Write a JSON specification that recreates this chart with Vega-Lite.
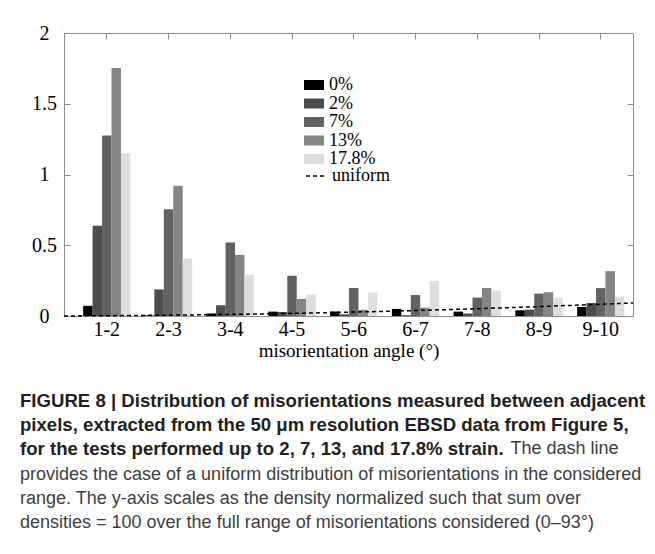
{
  "$schema": "https://vega.github.io/schema/vega-lite/v6.json",
  "width": 569,
  "height": 283,
  "autosize": {"type": "none"},
  "padding": {"left": 64, "top": 33, "right": 22, "bottom": 238},
  "background": "white",
  "config": {
    "view": {"stroke": "#8c8c8c", "strokeWidth": 1},
    "font": "Liberation Serif"
  },
  "title": {
    "text": [
      "FIGURE 8 | Distribution of misorientations measured between adjacent",
      "pixels, extracted from the 50 μm resolution EBSD data from Figure 5,",
      "for the tests performed up to 2, 7, 13, and 17.8% strain."
    ],
    "subtitle": [
      "provides the case of a uniform distribution of misorientations in the considered",
      "range. The y-axis scales as the density normalized such that sum over",
      "densities = 100 over the full range of misorientations considered (0–93°)"
    ],
    "orient": "bottom",
    "anchor": "start",
    "frame": "group",
    "dx": -44,
    "offset": -65,
    "font": "Liberation Sans",
    "fontSize": 18.6,
    "fontWeight": "bold",
    "color": "#231f20",
    "lineHeight": 24,
    "subtitleFont": "Liberation Sans",
    "subtitleFontSize": 18,
    "subtitleFontWeight": "normal",
    "subtitleColor": "#3d3d3d",
    "subtitleLineHeight": 24,
    "subtitlePadding": 7
  },
  "datasets": {
    "bars": [
      {"angle": "1-2", "strain": "0%", "density": 0.072},
      {"angle": "1-2", "strain": "2%", "density": 0.638},
      {"angle": "1-2", "strain": "7%", "density": 1.275},
      {"angle": "1-2", "strain": "13%", "density": 1.752},
      {"angle": "1-2", "strain": "17.8%", "density": 1.15},
      {"angle": "2-3", "strain": "0%", "density": 0.004},
      {"angle": "2-3", "strain": "2%", "density": 0.188},
      {"angle": "2-3", "strain": "7%", "density": 0.754},
      {"angle": "2-3", "strain": "13%", "density": 0.92},
      {"angle": "2-3", "strain": "17.8%", "density": 0.406},
      {"angle": "3-4", "strain": "0%", "density": 0.017},
      {"angle": "3-4", "strain": "2%", "density": 0.076},
      {"angle": "3-4", "strain": "7%", "density": 0.52},
      {"angle": "3-4", "strain": "13%", "density": 0.432},
      {"angle": "3-4", "strain": "17.8%", "density": 0.292},
      {"angle": "4-5", "strain": "0%", "density": 0.031},
      {"angle": "4-5", "strain": "2%", "density": 0.028},
      {"angle": "4-5", "strain": "7%", "density": 0.285},
      {"angle": "4-5", "strain": "13%", "density": 0.121},
      {"angle": "4-5", "strain": "17.8%", "density": 0.152},
      {"angle": "5-6", "strain": "0%", "density": 0.032},
      {"angle": "5-6", "strain": "2%", "density": 0.012},
      {"angle": "5-6", "strain": "7%", "density": 0.198},
      {"angle": "5-6", "strain": "13%", "density": 0.044},
      {"angle": "5-6", "strain": "17.8%", "density": 0.166},
      {"angle": "6-7", "strain": "0%", "density": 0.05},
      {"angle": "6-7", "strain": "2%", "density": 0.006},
      {"angle": "6-7", "strain": "7%", "density": 0.148},
      {"angle": "6-7", "strain": "13%", "density": 0.059},
      {"angle": "6-7", "strain": "17.8%", "density": 0.248},
      {"angle": "7-8", "strain": "0%", "density": 0.031},
      {"angle": "7-8", "strain": "2%", "density": 0.018},
      {"angle": "7-8", "strain": "7%", "density": 0.13},
      {"angle": "7-8", "strain": "13%", "density": 0.198},
      {"angle": "7-8", "strain": "17.8%", "density": 0.18},
      {"angle": "8-9", "strain": "0%", "density": 0.04},
      {"angle": "8-9", "strain": "2%", "density": 0.045},
      {"angle": "8-9", "strain": "7%", "density": 0.158},
      {"angle": "8-9", "strain": "13%", "density": 0.168},
      {"angle": "8-9", "strain": "17.8%", "density": 0.13},
      {"angle": "9-10", "strain": "0%", "density": 0.064},
      {"angle": "9-10", "strain": "2%", "density": 0.092},
      {"angle": "9-10", "strain": "7%", "density": 0.197},
      {"angle": "9-10", "strain": "13%", "density": 0.317},
      {"angle": "9-10", "strain": "17.8%", "density": 0.137}
    ],
    "uniform": [
      {"theta": 0.8, "density": 0.0006, "series": "uniform"},
      {"theta": 1, "density": 0.0009, "series": "uniform"},
      {"theta": 2, "density": 0.0037, "series": "uniform"},
      {"theta": 3, "density": 0.0083, "series": "uniform"},
      {"theta": 4, "density": 0.0147, "series": "uniform"},
      {"theta": 5, "density": 0.023, "series": "uniform"},
      {"theta": 6, "density": 0.033, "series": "uniform"},
      {"theta": 7, "density": 0.045, "series": "uniform"},
      {"theta": 8, "density": 0.059, "series": "uniform"},
      {"theta": 9, "density": 0.075, "series": "uniform"},
      {"theta": 10, "density": 0.092, "series": "uniform"}
    ]
  },
  "layer": [
    {
      "data": {"name": "bars"},
      "mark": {"type": "bar"},
      "encoding": {
        "x": {
          "field": "angle",
          "type": "nominal",
          "sort": ["1-2", "2-3", "3-4", "4-5", "5-6", "6-7", "7-8", "8-9", "9-10"],
          "scale": {"paddingInner": 0.234, "paddingOuter": 0.2245, "align": 0.69},
          "axis": {
            "orient": "bottom",
            "title": "misorientation angle (°)",
            "labelAngle": 0,
            "ticks": false,
            "tickSize": 0,
            "domain": false,
            "grid": false,
            "labelFont": "Liberation Serif",
            "labelFontSize": 20,
            "labelColor": "black",
            "labelPadding": 3,
            "titleFont": "Liberation Serif",
            "titleFontSize": 19,
            "titleFontWeight": "normal",
            "titleColor": "black",
            "titlePadding": 2
          }
        },
        "xOffset": {
          "field": "strain",
          "type": "nominal",
          "sort": ["0%", "2%", "7%", "13%", "17.8%"],
          "scale": {"paddingInner": 0, "paddingOuter": 0}
        },
        "y": {
          "field": "density",
          "type": "quantitative",
          "scale": {"domain": [0, 2], "nice": false},
          "axis": {
            "orient": "left",
            "values": [0, 0.5, 1, 1.5, 2],
            "format": "~g",
            "title": null,
            "ticks": true,
            "tickSize": -6,
            "tickColor": "#8c8c8c",
            "tickWidth": 1,
            "domain": false,
            "grid": false,
            "labelAlign": "center",
            "labelPadding": 26,
            "labelOverlap": false,
            "labelFont": "Liberation Serif",
            "labelFontSize": 20,
            "labelColor": "black"
          }
        },
        "color": {
          "field": "strain",
          "type": "nominal",
          "sort": ["0%", "2%", "7%", "13%", "17.8%"],
          "scale": {
            "domain": ["0%", "2%", "7%", "13%", "17.8%"],
            "range": ["#000000", "#4d4d4d", "#626262", "#858585", "#dedede"]
          },
          "legend": {
            "orient": "none",
            "legendX": 241,
            "legendY": 43,
            "title": null,
            "padding": 0,
            "symbolType": "M-1.111,-0.556H1.111V0.556H-1.111Z",
            "symbolSize": 324,
            "symbolStrokeWidth": 0,
            "symbolOpacity": 1,
            "labelFont": "Liberation Serif",
            "labelFontSize": 18,
            "labelColor": "black",
            "labelOffset": 6,
            "rowPadding": 0.5
          }
        }
      }
    },
    {
      "data": {"name": "bars"},
      "mark": {"type": "bar", "opacity": 0},
      "encoding": {
        "x": {
          "field": "angle",
          "type": "nominal",
          "sort": ["1-2", "2-3", "3-4", "4-5", "5-6", "6-7", "7-8", "8-9", "9-10"],
          "scale": {"paddingInner": 0.234, "paddingOuter": 0.2245, "align": 0.69},
          "axis": {
            "orient": "top",
            "labels": false,
            "title": "The dash line",
            "titleFont": "Liberation Sans",
            "titleFontSize": 18,
            "titleFontWeight": "normal",
            "titleColor": "#3d3d3d",
            "titleAlign": "left",
            "titleAnchor": "start",
            "titleBaseline": "alphabetic",
            "titleAngle": 0,
            "titleX": 446,
            "titleY": 420,
            "domain": false,
            "grid": false,
            "ticks": true,
            "tickSize": -6,
            "tickColor": "#8c8c8c",
            "tickWidth": 1
          }
        },
        "y": {
          "field": "density",
          "type": "quantitative",
          "scale": {"domain": [0, 2], "nice": false},
          "axis": {
            "orient": "right",
            "values": [0.5, 1, 1.5],
            "labels": false,
            "title": null,
            "domain": false,
            "grid": false,
            "ticks": true,
            "tickSize": -6,
            "tickColor": "#8c8c8c",
            "tickWidth": 1
          }
        }
      }
    },
    {
      "data": {"name": "uniform"},
      "mark": {"type": "line", "color": "black", "strokeWidth": 1.5},
      "encoding": {
        "x": {
          "field": "theta",
          "type": "quantitative",
          "scale": {"domain": [0.8, 10], "nice": false, "zero": false},
          "axis": null
        },
        "y": {
          "field": "density",
          "type": "quantitative",
          "scale": {"domain": [0, 2], "nice": false},
          "axis": null
        },
        "strokeDash": {
          "field": "series",
          "type": "nominal",
          "scale": {"domain": ["uniform"], "range": [[4, 3]]},
          "legend": {
            "orient": "none",
            "legendX": 241,
            "legendY": 132,
            "title": null,
            "padding": 0,
            "symbolType": "stroke",
            "symbolSize": 400,
            "symbolStrokeWidth": 1.5,
            "symbolStrokeColor": "black",
            "labelFont": "Liberation Serif",
            "labelFontSize": 18,
            "labelColor": "black",
            "labelOffset": 5
          }
        }
      }
    }
  ],
  "resolve": {
    "scale": {"x": "independent"},
    "axis": {"x": "independent", "y": "independent"}
  }
}
